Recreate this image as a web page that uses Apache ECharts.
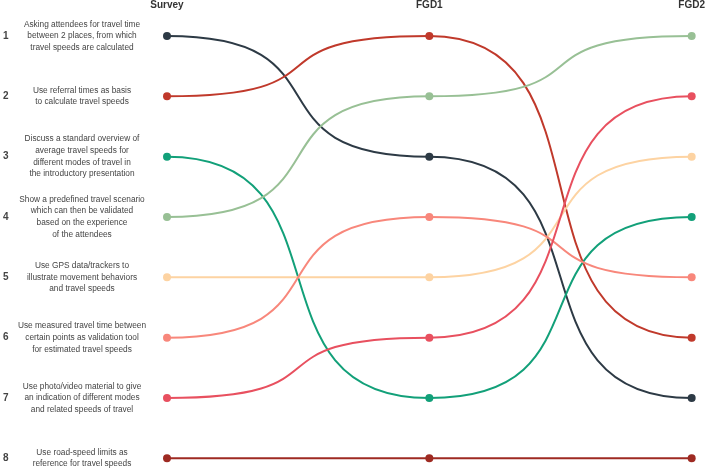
<!DOCTYPE html>
<html>
<head>
<meta charset="utf-8">
<script src="https://cdn.jsdelivr.net/npm/echarts@6/dist/echarts.min.js"></script>
<style>html,body{margin:0;padding:0;background:#fff}#c{width:708px;height:470px}</style>
</head>
<body>
<div id="c"></div>
<script>
const columns = ['Survey', 'FGD1', 'FGD2'];
const descriptions = [
  'Asking attendees for travel time\nbetween 2 places, from which\ntravel speeds are calculated',
  'Use referral times as basis\nto calculate travel speeds',
  'Discuss a standard overview of\naverage travel speeds for\ndifferent modes of travel in\nthe introductory presentation',
  'Show a predefined travel scenario\nwhich can then be validated\nbased on the experience\nof the attendees',
  'Use GPS data/trackers to\nillustrate movement behaviors\nand travel speeds',
  'Use measured travel time between\ncertain points as validation tool\nfor estimated travel speeds',
  'Use photo/video material to give\nan indication of different modes\nand related speeds of travel',
  'Use road-speed limits as\nreference for travel speeds'
];
const rankSurvey = [1, 2, 3, 4, 5, 6, 7, 8];
const rankFGD1   = [3, 1, 7, 2, 5, 4, 6, 8];
const rankFGD2   = [7, 6, 4, 1, 3, 5, 2, 8];
const colors = ['#2d3a45', '#c0392b', '#12a079', '#98c095', '#fdd3a2', '#f8877b', '#e8505f', '#9e2a22'];

const K = 0.72;
const series = descriptions.map(function (d, i) {
  const data = [[0, rankSurvey[i]], [1, rankFGD1[i]], [2, rankFGD2[i]]];
  return {
    type: 'custom',
    name: d,
    data: data,
    z: 2,
    renderItem: function (params, api) {
      const idx = params.dataIndex;
      const p = api.coord([api.value(0), api.value(1)]);
      const children = [];
      if (idx < data.length - 1) {
        const q = api.coord(data[idx + 1]);
        const dx = q[0] - p[0];
        children.push({
          type: 'bezierCurve',
          shape: { x1: p[0], y1: p[1], x2: q[0], y2: q[1],
                   cpx1: p[0] + K * dx, cpy1: p[1], cpx2: q[0] - K * dx, cpy2: q[1] },
          style: { stroke: colors[i], lineWidth: 2, fill: null }
        });
      }
      children.push({
        type: 'circle',
        shape: { cx: p[0], cy: p[1], r: 4 },
        style: { fill: colors[i] },
        z2: 10
      });
      return { type: 'group', children: children };
    }
  };
});

const chart = echarts.init(document.getElementById('c'), null, { renderer: 'canvas' });
chart.setOption({
  animation: false,
  backgroundColor: '#fff',
  grid: { left: 165, right: 14, top: 36, bottom: 11 },
  xAxis: {
    type: 'category',
    data: columns,
    position: 'top',
    boundaryGap: false,
    axisLine: { show: false },
    axisTick: { show: false },
    splitLine: { show: false },
    axisLabel: {
      margin: 31,
      verticalAlign: 'middle',
      fontFamily: 'Liberation Sans',
      fontSize: 10,
      fontWeight: 'bold',
      color: '#333'
    }
  },
  yAxis: [
    {
      type: 'value', inverse: true, min: 1, max: 8, interval: 1,
      position: 'left',
      axisLine: { show: false }, axisTick: { show: false }, splitLine: { show: false },
      axisLabel: {
        margin: 164, align: 'left',
        fontFamily: 'Liberation Sans', fontSize: 10, fontWeight: 'bold', color: '#444',
        formatter: function (v) { return String(v); }
      }
    },
    {
      type: 'value', inverse: true, min: 1, max: 8, interval: 1,
      position: 'left',
      axisLine: { show: false }, axisTick: { show: false }, splitLine: { show: false },
      axisLabel: {
        margin: 85, align: 'center',
        fontFamily: 'Liberation Sans', fontSize: 8.3, lineHeight: 11.7, color: '#444',
        formatter: function (v) { return descriptions[v - 1] || ''; }
      }
    }
  ],
  series: series
});
</script>
</body>
</html>
